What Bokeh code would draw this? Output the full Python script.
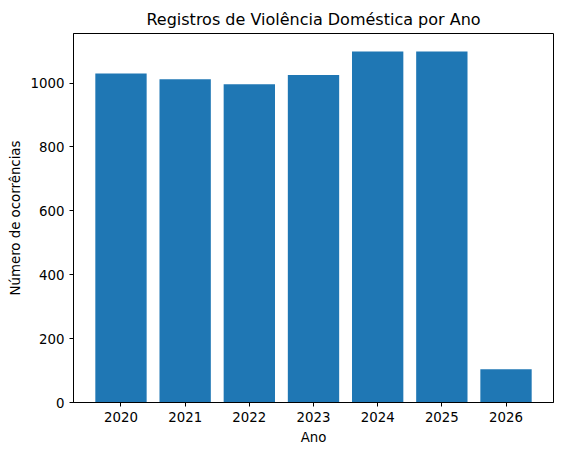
from bokeh.plotting import figure
from bokeh.embed import file_html
from bokeh.resources import INLINE
from bokeh.models import Range1d, FixedTicker, ColumnDataSource

anos = [2020, 2021, 2022, 2023, 2024, 2025, 2026]
ocorrencias = [1030, 1012, 996, 1025, 1099, 1099, 104]
y_ticks = [0, 200, 400, 600, 800, 1000]

src = ColumnDataSource(data=dict(ano=anos, n=ocorrencias))

p = figure(width=572, height=447, output_backend="svg", toolbar_location=None,
           title="Registros de Violência Doméstica por Ano",
           x_range=Range1d(2019.26, 2026.74), y_range=Range1d(0, 1155),
           min_border_left=73, min_border_right=19, min_border_top=33, min_border_bottom=45)

p.vbar(x="ano", top="n", width=0.8, source=src, color="#1f77b4", line_color=None)

p.title.align = "center"
p.title.text_font = "DejaVu Sans"
p.title.text_font_size = "12pt"
p.title.text_font_style = "normal"
p.title.text_color = "black"

p.xgrid.visible = False
p.ygrid.visible = False
p.outline_line_color = "black"
p.outline_line_width = 1

p.xaxis.ticker = FixedTicker(ticks=anos)
p.yaxis.ticker = FixedTicker(ticks=y_ticks)
p.xaxis.axis_label = "Ano"
p.yaxis.axis_label = "Número de ocorrências"

for ax in (p.xaxis, p.yaxis):
    ax.axis_line_color = "black"
    ax.major_tick_line_color = "black"
    ax.major_tick_in = 0
    ax.major_tick_out = 4
    ax.minor_tick_line_color = None
    ax.major_label_text_font = "DejaVu Sans"
    ax.major_label_text_font_size = "10pt"
    ax.major_label_text_color = "black"
    ax.axis_label_text_font = "DejaVu Sans"
    ax.axis_label_text_font_size = "10pt"
    ax.axis_label_text_font_style = "normal"
    ax.axis_label_text_color = "black"

open("out.html", "w").write(file_html(p, INLINE))
